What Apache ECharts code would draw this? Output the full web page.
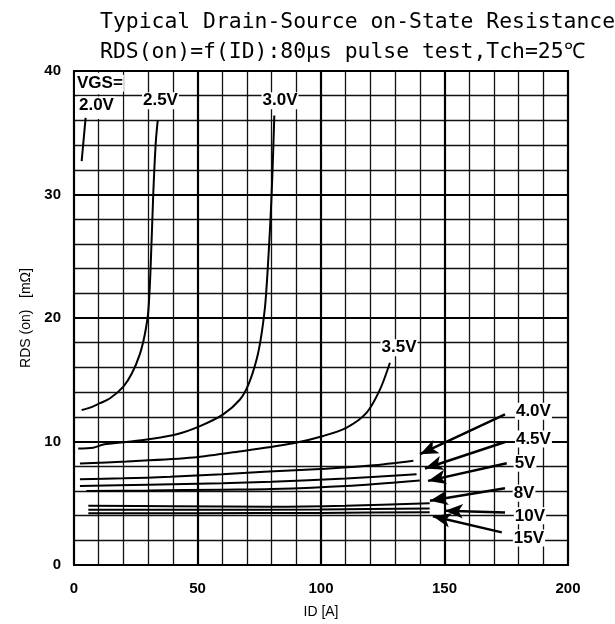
<!DOCTYPE html>
<html><head><meta charset="utf-8">
<script src="https://cdn.jsdelivr.net/npm/echarts@6/dist/echarts.min.js"></script>
<style>html,body{margin:0;padding:0;background:#fff}#c{width:615px;height:624px}</style>
</head><body><div id="c"></div>
<script>
// ---- text ----
const titleLines = ['Typical Drain-Source on-State Resistance', 'RDS(on)=f(ID):80μs pulse test,Tch=25℃'];
const xName = 'ID [A]';
const yName = 'RDS (on)   [mΩ]';
// ---- axes: [min, max, interval] ----
const xRange = [0, 200, 50];
const yRange = [0, 40, 10];
// ---- curves: [ID (A), RDS(on) (mΩ)] ----
const vgs20 = [[3.1, 32.7], [4.7, 36.2]];
const vgs25 = [[3.1, 12.55], [6.5, 12.74], [10.5, 13.1], [14.6, 13.5], [20.0, 14.45], [23.4, 15.5], [26.7, 17.1], [28.7, 18.7], [30.1, 20.6], [31.0, 24.0], [32.1, 30.1], [33.1, 34.2], [33.9, 36.0]];
const vgs30 = [[1.7, 9.43], [7.8, 9.5], [11.9, 9.75], [21.3, 9.96], [30.1, 10.18], [41.6, 10.59], [51.0, 11.25], [60.4, 12.2], [67.2, 13.4], [70.6, 14.6], [74.0, 16.7], [76.0, 18.8], [77.6, 21.5], [79.4, 27.4], [80.3, 31.5], [81.1, 36.4]];
const vgs35 = [[2.4, 8.22], [21.3, 8.38], [48.3, 8.70], [68.5, 9.24], [88.8, 9.86], [100.9, 10.45], [110.4, 11.13], [118.5, 12.34], [123.9, 14.22], [127.9, 16.38]];
const vgs40 = [[2.4, 6.95], [20, 7.02], [38.9, 7.14], [60, 7.35], [77, 7.55], [102, 7.8], [120, 8.05], [137.4, 8.45]];
const vgs45 = [[2.4, 6.4], [30, 6.5], [60, 6.62], [80, 6.75], [110, 7.0], [138.7, 7.35]];
const vgs50 = [[5, 6.0], [30, 6.03], [60, 6.1], [80, 6.15], [110, 6.4], [140, 6.85]];
const vgs80 = [[5.8, 4.8], [40, 4.76], [80, 4.72], [110, 4.8], [144, 5.0]];
const vgs100 = [[5.8, 4.47], [50, 4.47], [100, 4.5], [144, 4.58]];
const vgs150 = [[5.8, 4.2], [50, 4.2], [100, 4.22], [144, 4.28]];
// ---- labels: [text, ID, RDS] ----
const curveLabels = [
  ['VGS=', 10.5, 39.0], ['2.0V', 9.1, 37.25], ['2.5V', 35.0, 37.6], ['3.0V', 83.4, 37.6],
  ['3.5V', 131.6, 17.6], ['4.0V', 186.0, 12.45], ['4.5V', 186.0, 10.2], ['5V', 182.6, 8.24],
  ['8V', 182.2, 5.82], ['10V', 184.6, 3.98], ['15V', 184.2, 2.18]
];
// ---- arrows: [fromID, fromR, toID, toR] ----
const arrows = [
  [174.5, 12.2, 140.1, 8.97], [174.5, 9.96, 142.1, 7.81], [175.2, 8.24, 143.3, 6.81],
  [174.5, 6.22, 144.1, 5.2], [174.5, 4.26, 150.2, 4.39], [173.2, 2.64, 145.3, 3.94]
];
// ---- blanked legend cells: [x1, y1, x2, y2] ----
const legendCells = [[0.4, 38.12, 19.6, 39.85], [0.4, 36.12, 19.6, 37.88]];

const curveSets = [vgs20, vgs25, vgs30, vgs35, vgs40, vgs45, vgs50, vgs80, vgs100, vgs150];

const chart = echarts.init(document.getElementById('c'), null, {renderer: 'canvas'});
const axisCommon = {
  type: 'value',
  axisLine: {show: true, lineStyle: {color: '#000', width: 2}},
  axisTick: {show: false},
  splitLine: {show: true, lineStyle: {color: '#000', width: 2.2}},
  minorTick: {show: false, splitNumber: 5},
  minorSplitLine: {show: true, lineStyle: {color: '#111', width: 1.3}},
  axisLabel: {color: '#000', fontFamily: 'Liberation Sans, Arial, sans-serif', fontWeight: 'bold', fontSize: 15},
  nameTextStyle: {color: '#000', fontFamily: 'Liberation Sans, Arial, sans-serif', fontSize: 14}
};
const series = curveSets.map(d => ({
  type: 'line', data: d, showSymbol: false, smooth: 0.3,
  lineStyle: {color: '#000', width: 2}, z: 3, silent: true
}));
series.push({
  type: 'line', data: [], z: 1, silent: true,
  markArea: {silent: true, itemStyle: {color: '#fff'},
    data: legendCells.map(c => [{coord: [c[0], c[1]]}, {coord: [c[2], c[3]]}])}
});
series.push({
  type: 'line', data: [], z: 4, silent: true,
  markLine: {silent: true, animation: false, label: {show: false},
    lineStyle: {color: '#000', width: 2.5, type: 'solid'},
    data: arrows.map(a => [
      {coord: [a[0], a[1]], symbol: 'none'},
      {coord: [a[2], a[3]], symbol: 'arrow', symbolSize: [11, 18]}
    ])}
});
series.push({
  type: 'scatter', z: 5, silent: true, symbol: 'circle', symbolSize: 1,
  itemStyle: {color: '#fff', opacity: 1},
  data: curveLabels.map(l => ({name: l[0], value: [l[1], l[2]]})),
  label: {show: true, position: 'inside', formatter: p => p.name, color: '#000', opacity: 1,
    textBorderWidth: 0, textBorderColor: 'transparent',
    fontFamily: 'Liberation Sans, Arial, sans-serif', fontSize: 17, fontWeight: 'bold',
    backgroundColor: '#fff', padding: [0, 1]}
});

chart.setOption({
  animation: false,
  backgroundColor: '#fff',
  title: {text: titleLines.join('\n'), left: 95, top: 2,
    textStyle: {fontFamily: 'DejaVu Sans Mono, monospace', fontSize: 21.4, fontWeight: 'normal', color: '#000', lineHeight: 30}},
  grid: {left: 74, right: 47, top: 71, bottom: 58, show: true, borderColor: '#000', borderWidth: 2},
  xAxis: Object.assign({}, axisCommon, {min: xRange[0], max: xRange[1], interval: xRange[2],
    name: xName, nameLocation: 'middle', nameGap: 40,
    axisLabel: Object.assign({}, axisCommon.axisLabel, {margin: 16})}),
  yAxis: Object.assign({}, axisCommon, {min: yRange[0], max: yRange[1], interval: yRange[2],
    name: yName, nameLocation: 'middle', nameGap: 41, nameRotate: 90,
    axisLabel: Object.assign({}, axisCommon.axisLabel, {margin: 13})}),
  series: series
});
</script></body></html>
